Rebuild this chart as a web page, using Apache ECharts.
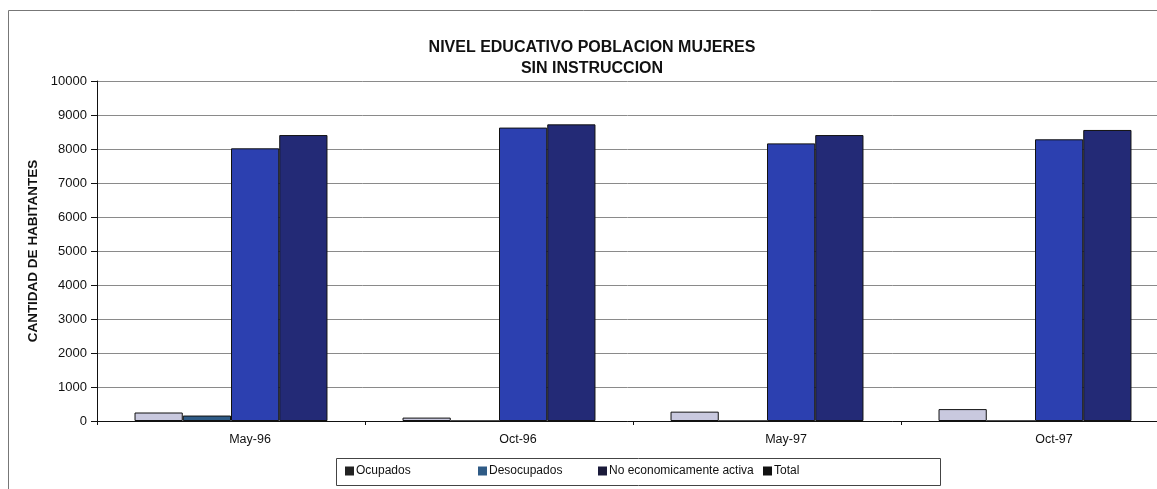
<!DOCTYPE html>
<html>
<head>
<meta charset="utf-8">
<script src="https://cdn.jsdelivr.net/npm/echarts@6/dist/echarts.min.js"></script>
<style>
  html, body { margin: 0; padding: 0; background: #fff; }
  #chart { width: 1157px; height: 489px; }
</style>
</head>
<body>
<div id="chart"></div>
<script>
const periods = ["May-96", "Oct-96", "May-97", "Oct-97"];
const ocupados = [250, 100, 275, 350];
const desocupados = [160, 0, 0, 0];
const noActiva = [8020, 8630, 8165, 8285];
const total = [8410, 8725, 8410, 8560];
const seriesNames = ["Ocupados", "Desocupados", "No economicamente activa", "Total"];
const yTicks = [0, 1000, 2000, 3000, 4000, 5000, 6000, 7000, 8000, 9000, 10000];

const palette = ["#c9c9df", "#2f5b86", "#2c40b0", "#232a76"];
const font = "Liberation Sans, Arial, sans-serif";

const chart = echarts.init(document.getElementById("chart"));

const seriesData = [ocupados, desocupados, noActiva, total].map((values, i) => ({
  name: seriesNames[i],
  type: "bar",
  data: values,
  barGap: "0%",
  barCategoryGap: "28%",
  itemStyle: {
    color: palette[i],
    borderColor: "#111",
    borderWidth: 1,
  },
}));

const legendLefts = [345, 478, 598, 763];
const legendIconColors = ["#222", "#2f5b86", "#1a1a3a", "#111"];

const option = {
  backgroundColor: "#fff",
  animation: false,
  title: {
    text: "NIVEL EDUCATIVO POBLACION MUJERES\nSIN INSTRUCCION",
    left: 587,
    top: 32,
    textAlign: "center",
    textStyle: {
      fontFamily: font,
      fontWeight: "bold",
      fontSize: 16,
      lineHeight: 21,
      color: "#111",
    },
  },
  legend: seriesNames.map((name, i) => ({
    data: [{ name: name, itemStyle: { color: legendIconColors[i], borderWidth: 0 } }],
    left: legendLefts[i],
    top: 465,
    padding: 0,
    itemWidth: 9,
    itemHeight: 9,
    itemGap: 3,
    icon: "rect",
    selectedMode: false,
    textStyle: { fontFamily: font, fontSize: 12, color: "#111", padding: [0, 0, 0, -3] },
  })),
  graphic: [
    {
      type: "rect",
      shape: { x: 8.5, y: 10.5, width: 1160, height: 490 },
      style: { fill: "none", stroke: "#777", lineWidth: 1 },
      silent: true,
    },
    {
      type: "rect",
      shape: { x: 336.5, y: 458.5, width: 604, height: 27 },
      style: { fill: "none", stroke: "#444", lineWidth: 1 },
      silent: true,
    },
  ],
  grid: {
    left: 97,
    width: 1072,
    top: 81,
    height: 340,
    outerBoundsMode: "none",
    containLabel: false,
  },
  xAxis: {
    type: "category",
    data: periods,
    axisLine: { lineStyle: { color: "#111", width: 1 } },
    axisTick: { show: true, length: 4, lineStyle: { color: "#111" } },
    axisLabel: {
      fontFamily: font,
      fontSize: 12.5,
      color: "#111",
      margin: 12,
      padding: [0, 0, 0, 38],
    },
  },
  yAxis: {
    type: "value",
    min: yTicks[0],
    max: yTicks[yTicks.length - 1],
    interval: 1000,
    name: "CANTIDAD DE HABITANTES",
    nameLocation: "middle",
    nameGap: 56,
    nameRotate: 90,
    nameTextStyle: {
      fontFamily: font,
      fontWeight: "bold",
      fontSize: 13.5,
      color: "#111",
    },
    axisLine: { show: true, lineStyle: { color: "#111", width: 1 } },
    axisTick: { show: true, length: 6, lineStyle: { color: "#111" } },
    axisLabel: {
      fontFamily: font,
      fontSize: 13,
      color: "#111",
      margin: 10,
      formatter: (v) => String(v),
    },
    splitLine: { show: true, lineStyle: { color: "#8a8a8a", width: 1 } },
  },
  series: seriesData,
};

chart.setOption(option);
</script>
</body>
</html>
